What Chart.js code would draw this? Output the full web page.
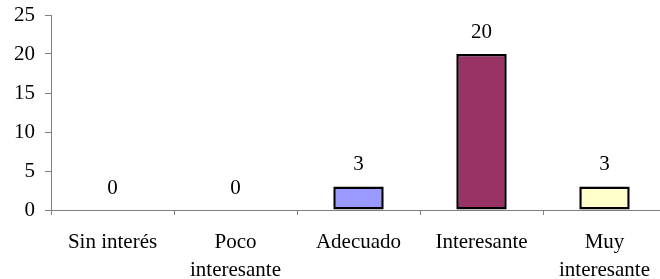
<!DOCTYPE html>
<html>
<head>
<meta charset="utf-8">
<script src="https://cdn.jsdelivr.net/npm/chart.js@4.4.0/dist/chart.umd.min.js"></script>
<style>
    html, body { margin: 0; padding: 0; background: #fff; overflow: hidden; }
    #wrap { width: 668px; height: 279px; position: relative; }
</style>
</head>
<body>
<div id="wrap"><canvas id="ratingChart"></canvas></div>
<script>
// Chart data
const categories = ['Sin interés', ['Poco', 'interesante'], 'Adecuado', 'Interesante', ['Muy', 'interesante']];
const counts = [0, 0, 3, 20, 3];
const barColors = ['#9999FF', '#9999FF', '#9999FF', '#993366', '#FFFFCC'];
const yTicks = [0, 5, 10, 15, 20, 25];

const serif = '"Liberation Serif", "Times New Roman", serif';
const axisGray = '#808080';

// Draws the value above each bar (zeros included)
const valueLabels = {
    id: 'valueLabels',
    afterDatasetsDraw(chart) {
        const ctx = chart.ctx;
        const meta = chart.getDatasetMeta(0);
        ctx.save();
        ctx.font = '21px ' + serif;
        ctx.fillStyle = '#000';
        ctx.textAlign = 'center';
        ctx.textBaseline = 'middle';
        meta.data.forEach(function (bar, i) {
            ctx.fillText(String(counts[i]), bar.x, bar.y - 22);
        });
        ctx.restore();
    }
};

new Chart(document.getElementById('ratingChart'), {
    type: 'bar',
    data: {
        labels: categories,
        datasets: [{
            data: counts,
            backgroundColor: barColors,
            borderColor: '#000',
            borderWidth: 2.5,
            borderSkipped: false,
            barPercentage: 0.41,
            categoryPercentage: 1
        }]
    },
    options: {
        responsive: true,
        maintainAspectRatio: false,
        animation: false,
        layout: { padding: { top: 15, right: 2, bottom: 0, left: 0 } },
        plugins: {
            legend: { display: false },
            tooltip: { enabled: false }
        },
        scales: {
            x: {
                offset: true,
                grid: {
                    offset: true,
                    drawOnChartArea: false,
                    tickLength: 5,
                    color: axisGray
                },
                border: { color: axisGray, width: 1 },
                ticks: {
                    color: '#000',
                    padding: 14,
                    maxRotation: 0,
                    autoSkip: false,
                    font: { family: serif, size: 21, lineHeight: 1.33 }
                },
                afterFit: function (scale) {
                    scale.height = 69;
                    scale.paddingLeft = 0;
                    scale.paddingRight = 0;
                }
            },
            y: {
                min: 0,
                max: 25,
                afterBuildTicks: function (scale) {
                    scale.ticks = yTicks.map(function (v) { return { value: v }; });
                },
                grid: {
                    drawOnChartArea: false,
                    tickLength: 6,
                    color: axisGray
                },
                border: { color: axisGray, width: 1 },
                ticks: {
                    color: '#000',
                    padding: 10,
                    font: { family: serif, size: 21 }
                },
                afterFit: function (scale) {
                    scale.width = 51;
                    scale.paddingTop = 0;
                    scale.paddingBottom = 0;
                }
            }
        }
    },
    plugins: [valueLabels]
});
</script>
</body>
</html>
